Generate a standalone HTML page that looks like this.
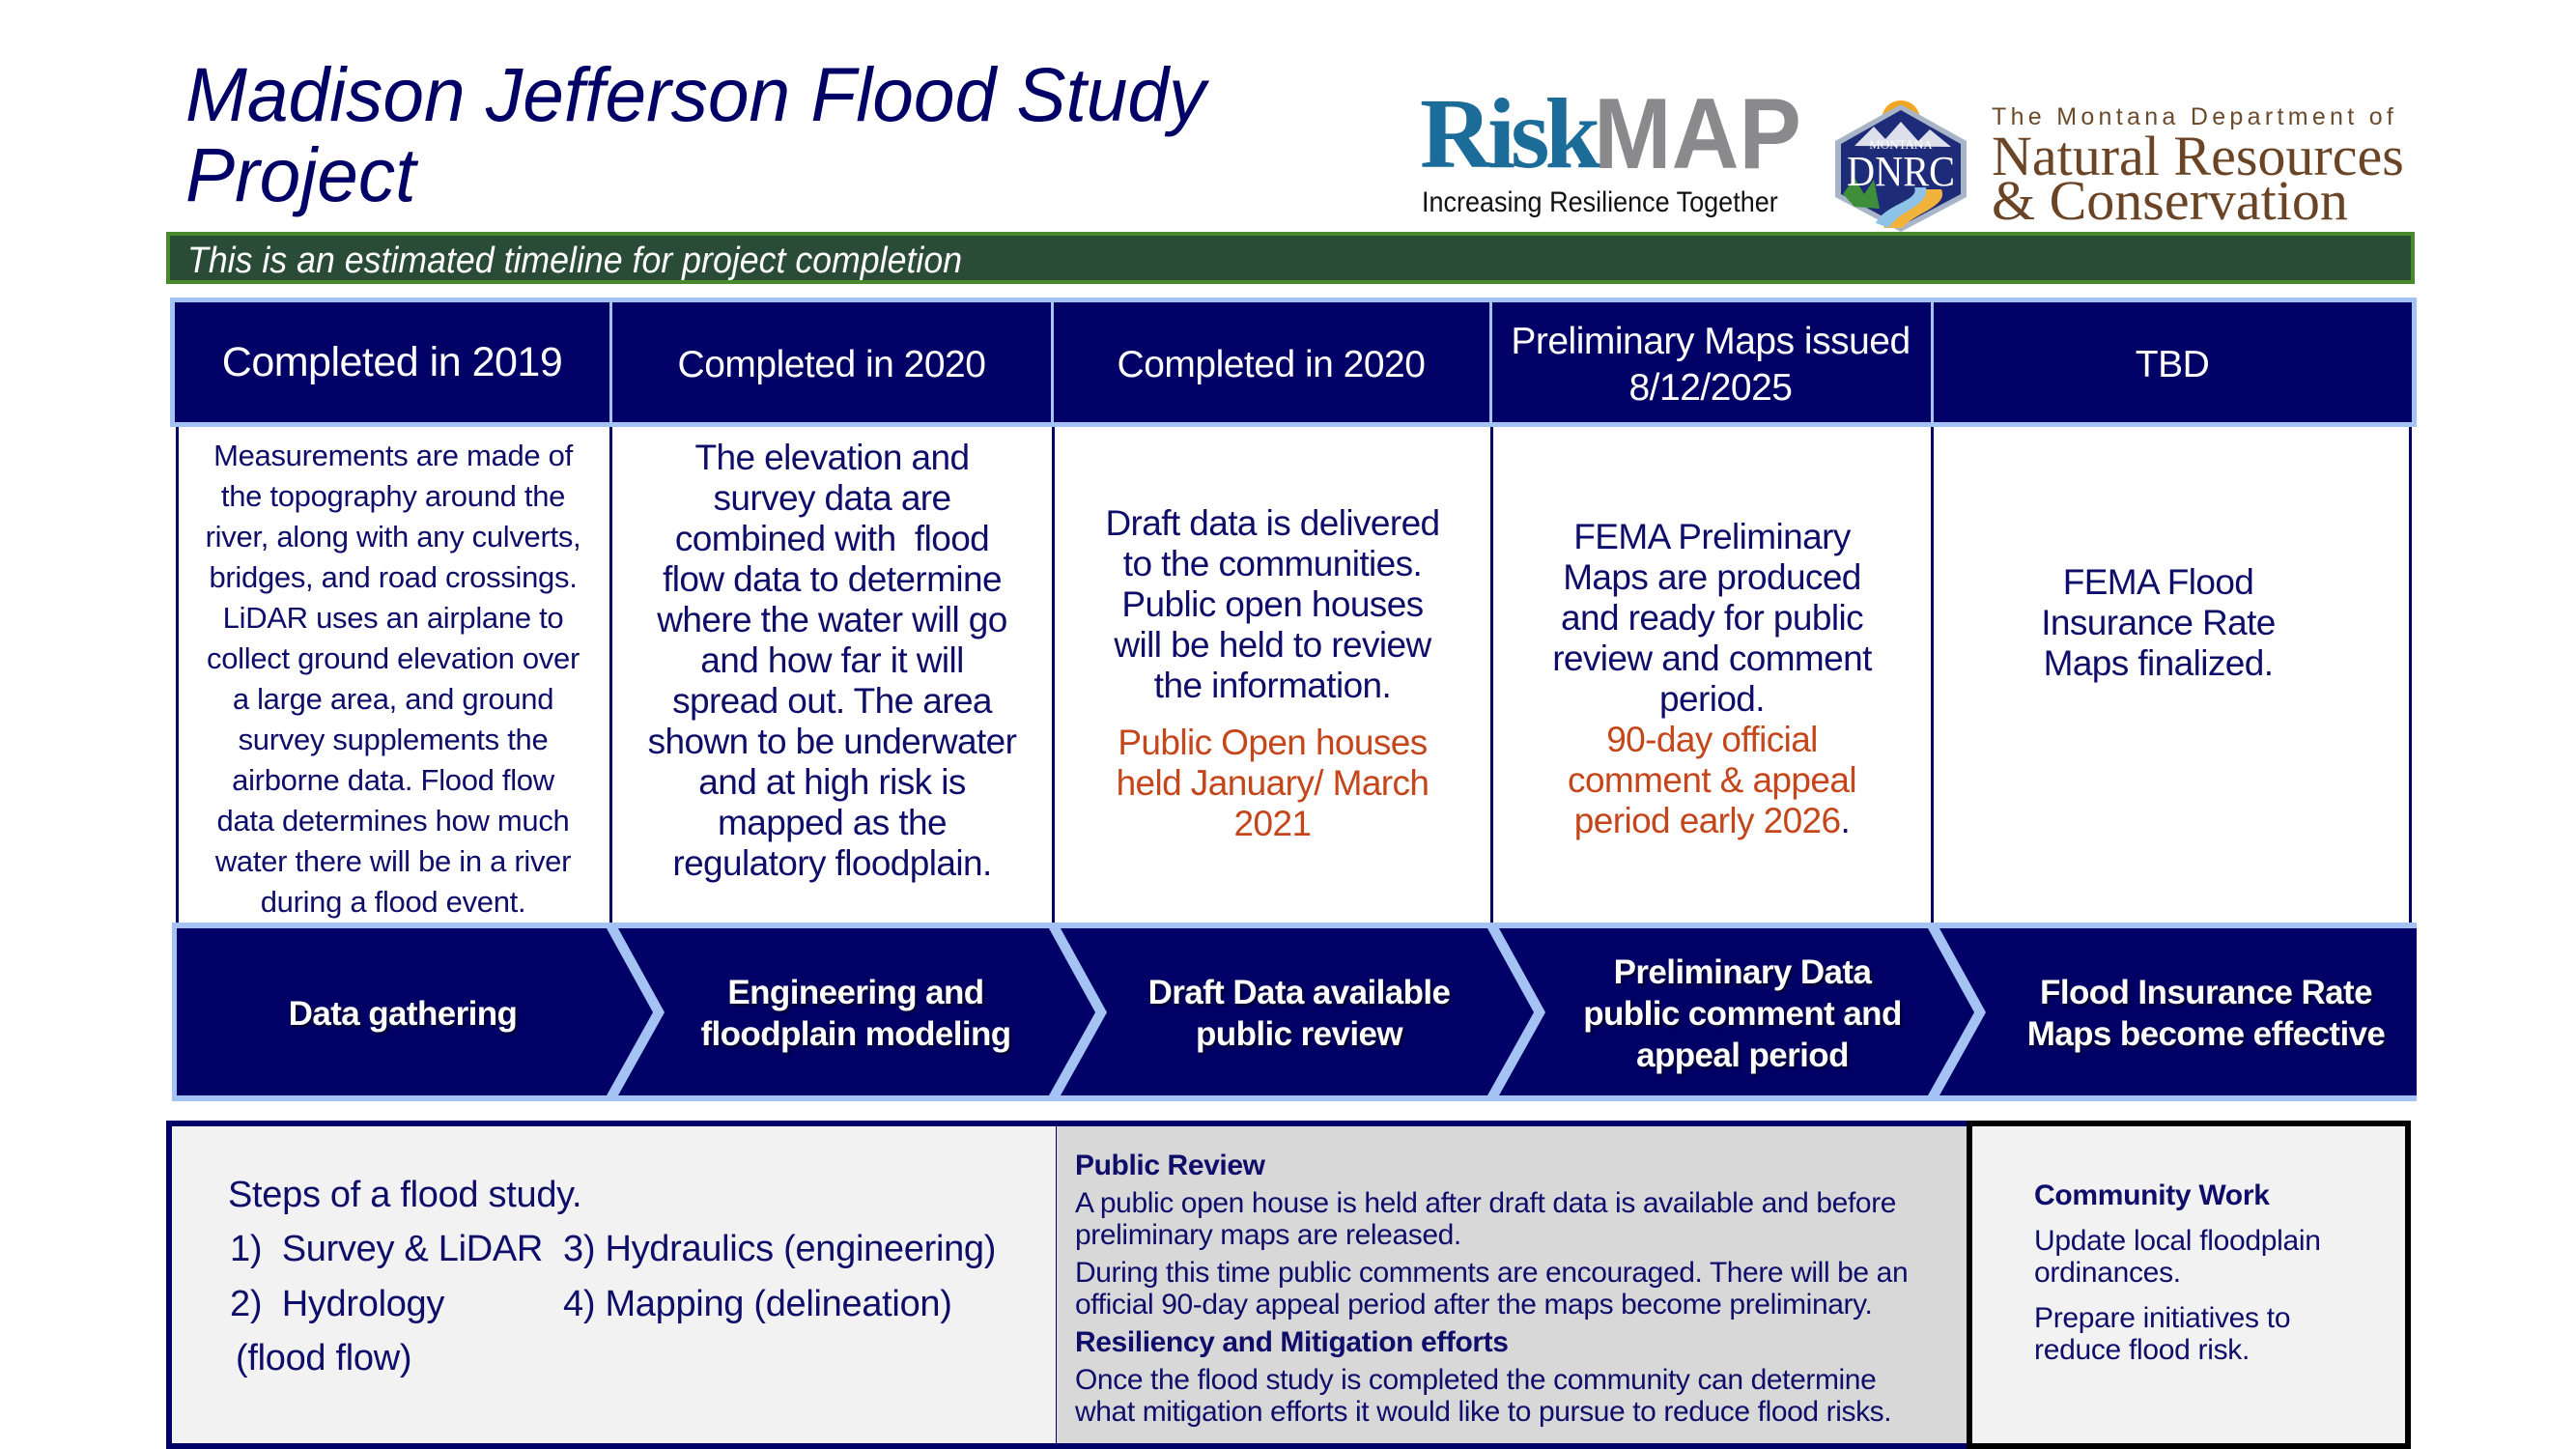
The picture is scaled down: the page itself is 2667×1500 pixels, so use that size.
<!DOCTYPE html>
<html><head><meta charset="utf-8"><style>
*{margin:0;padding:0;box-sizing:border-box}
body{width:2667px;height:1500px;background:#fff;position:relative;overflow:hidden;font-family:"Liberation Sans",sans-serif;color:#0e0e6a}
.a{position:absolute;white-space:nowrap}
.c{text-align:center}
.hd{color:#fff;font-size:39px;line-height:48px;letter-spacing:-0.5px}
.bd{font-size:37px;line-height:42px;letter-spacing:-0.6px}
.or{color:#c4461a}
.ch{color:#fff;font-weight:bold;font-size:35px;line-height:43px;letter-spacing:-0.6px;text-shadow:2px 2px 2px rgba(0,0,0,.6)}
</style></head><body>

<div class="a" style="left:192px;top:56px;font-size:79px;line-height:83px;font-style:italic;color:#000066;transform:scaleX(0.97);transform-origin:0 0">Madison Jefferson Flood Study<br>Project</div>

<!-- RiskMAP -->
<div class="a" style="left:1470px;top:84px;font-family:'Liberation Serif',serif;font-weight:bold;font-size:104px;line-height:110px;color:#1b6c98;letter-spacing:-5px">Risk</div>
<div class="a" style="left:1650px;top:84px;font-weight:bold;font-size:104px;line-height:110px;color:#8a8a8c;transform:scaleX(0.93);transform-origin:0 0">MAP</div>
<div class="a" style="left:1472px;top:193px;font-size:30px;line-height:34px;color:#111;transform:scaleX(0.9);transform-origin:0 0">Increasing Resilience Together</div>

<svg class="a" style="left:1890px;top:96px" width="156" height="146" viewBox="0 0 156 146">
<circle cx="78" cy="28" r="20" fill="#f2a51e"/>
<polygon points="78,12 146,50 146,108 78,144 10,108 10,50" fill="#a8b4c8"/>
<polygon points="78,18 140,53 140,105 78,138 16,105 16,53" fill="#1d2b78"/>
<polygon points="30,55 50,35 62,48 78,30 96,50 108,38 130,56" fill="#fff" opacity=".85"/>
<path d="M60,140 C70,120 110,118 100,100 L120,100 C128,118 90,125 80,140 Z" fill="#f2b33d"/>
<path d="M52,135 C62,115 98,112 92,98 L104,98 C108,118 74,122 66,140 Z" fill="#8fc3e8"/>
<polygon points="18,105 30,88 40,105 50,90 56,120 30,118" fill="#3f8f3a"/>
<text x="78" y="58" text-anchor="middle" font-family="Liberation Serif" font-size="13" fill="#fff">MONTANA</text>
<text x="78" y="96" text-anchor="middle" font-family="Liberation Serif" font-size="44" fill="#fff" textLength="112" lengthAdjust="spacingAndGlyphs">DNRC</text>
</svg>
<div class="a" style="left:2062px;top:106px;font-size:25px;line-height:30px;color:#6b4a2b;letter-spacing:4.3px">The Montana Department of</div>
<div class="a" style="left:2062px;top:130px;font-family:'Liberation Serif',serif;font-size:58px;line-height:64px;color:#6b4426;transform:scaleX(1.0);transform-origin:0 0">Natural Resources</div>
<div class="a" style="left:2062px;top:176px;font-family:'Liberation Serif',serif;font-size:58px;line-height:64px;color:#6b4426;transform:scaleX(1.0);transform-origin:0 0">&amp; Conservation</div>

<!-- green bar -->
<div class="a" style="left:172px;top:240px;width:2328px;height:54px;background:#2a4c36;border:4px solid #4a8a2e"></div>
<div class="a" style="left:194px;top:248px;font-size:38px;line-height:44px;font-style:italic;color:#fff;transform:scaleX(0.94);transform-origin:0 0">This is an estimated timeline for project completion</div>

<!-- header row -->
<div class="a" style="left:176px;top:308px;width:2326px;height:134px;background:#a4c2f4"></div>
<div class="a" style="left:181px;top:313px;width:450px;height:124px;background:#000066"></div>
<div class="a" style="left:634px;top:313px;width:454px;height:124px;background:#000066"></div>
<div class="a" style="left:1091px;top:313px;width:451px;height:124px;background:#000066"></div>
<div class="a" style="left:1545px;top:313px;width:454px;height:124px;background:#000066"></div>
<div class="a" style="left:2002px;top:313px;width:495px;height:124px;background:#000066"></div>
<div class="a c hd" style="left:178px;width:456px;top:351px;font-size:43px">Completed in 2019</div>
<div class="a c hd" style="left:631px;width:460px;top:354px">Completed in 2020</div>
<div class="a c hd" style="left:1088px;width:456px;top:354px">Completed in 2020</div>
<div class="a c hd" style="left:1541px;width:460px;top:330px">Preliminary Maps issued<br>8/12/2025</div>
<div class="a c hd" style="left:1999px;width:500px;top:354px">TBD</div>

<!-- body row -->
<div class="a" style="left:182px;top:442px;width:3px;height:520px;background:#000066"></div>
<div class="a" style="left:631px;top:442px;width:3px;height:520px;background:#000066"></div>
<div class="a" style="left:1089px;top:442px;width:3px;height:520px;background:#000066"></div>
<div class="a" style="left:1543px;top:442px;width:3px;height:520px;background:#000066"></div>
<div class="a" style="left:1999px;top:442px;width:3px;height:520px;background:#000066"></div>
<div class="a" style="left:2494px;top:442px;width:3px;height:520px;background:#000066"></div>

<div class="a c bd" style="left:183px;width:448px;top:451px;font-size:31px;letter-spacing:-0.3px">Measurements are made of<br>the topography around the<br>river, along with any culverts,<br>bridges, and road crossings.<br>LiDAR uses an airplane to<br>collect ground elevation over<br>a large area, and ground<br>survey supplements the<br>airborne data. Flood flow<br>data determines how much<br>water there will be in a river<br>during a flood event.</div>
<div class="a c bd" style="left:634px;width:455px;top:453px">The elevation and<br>survey data are<br>combined with&nbsp; flood<br>flow data to determine<br>where the water will go<br>and how far it will<br>spread out. The area<br>shown to be underwater<br>and at high risk is<br>mapped as the<br>regulatory floodplain.</div>
<div class="a c bd" style="left:1092px;width:451px;top:521px">Draft data is delivered<br>to the communities.<br>Public open houses<br>will be held to review<br>the information.</div>
<div class="a c bd or" style="left:1092px;width:451px;top:748px">Public Open houses<br>held January/ March<br>2021</div>
<div class="a c bd" style="left:1546px;width:453px;top:535px">FEMA Preliminary<br>Maps are produced<br>and ready for public<br>review and comment<br>period.<br><span class="or">90-day official<br>comment &amp; appeal<br>period early 2026</span>.</div>
<div class="a c bd" style="left:2002px;width:465px;top:582px">FEMA Flood<br>Insurance Rate<br>Maps finalized.</div>

<!-- chevrons -->
<svg class="a" style="left:0;top:0" width="2667" height="1500">
<rect x="178" y="955" width="2324" height="185" fill="#a4c2f4"/>
<polygon points="183,961 628,961 676,1048 628,1134 183,1134" fill="#000066"/>
<polygon points="640,961 1086,961 1134,1048 1086,1134 640,1134 688,1048" fill="#000066"/>
<polygon points="1098,961 1540,961 1588,1048 1540,1134 1098,1134 1146,1048" fill="#000066"/>
<polygon points="1552,961 1996,961 2044,1048 1996,1134 1552,1134 1600,1048" fill="#000066"/>
<polygon points="2008,961 2502,961 2502,1134 2008,1134 2056,1048" fill="#000066"/>
</svg>
<div class="a c ch" style="left:217px;width:400px;top:1028px">Data gathering</div>
<div class="a c ch" style="left:686px;width:400px;top:1006px">Engineering and<br>floodplain modeling</div>
<div class="a c ch" style="left:1145px;width:400px;top:1006px">Draft Data available<br>public review</div>
<div class="a c ch" style="left:1604px;width:400px;top:985px">Preliminary Data<br>public comment and<br>appeal period</div>
<div class="a c ch" style="left:2054px;width:460px;top:1006px">Flood Insurance Rate<br>Maps become effective</div>

<!-- bottom box -->
<div class="a" style="left:172px;top:1160px;width:924px;height:340px;background:#f2f2f2;border:6px solid #000066;border-right:3px solid #000066"></div>
<div class="a" style="left:1094px;top:1160px;width:948px;height:340px;background:#d8d8d8;border-top:6px solid #000066;border-bottom:6px solid #000066"></div>
<div class="a" style="left:2036px;top:1160px;width:460px;height:340px;background:#f2f2f2;border:6px solid #000"></div>

<div class="a" style="left:236px;top:1215px;font-size:38px;line-height:44px;letter-spacing:-0.3px">Steps of a flood study.</div>
<div class="a" style="left:238px;top:1271px;font-size:38px;line-height:44px;letter-spacing:-0.3px">1)&nbsp; Survey &amp; LiDAR</div>
<div class="a" style="left:583px;top:1271px;font-size:38px;line-height:44px;letter-spacing:-0.3px">3) Hydraulics (engineering)</div>
<div class="a" style="left:238px;top:1328px;font-size:38px;line-height:44px;letter-spacing:-0.3px">2)&nbsp; Hydrology</div>
<div class="a" style="left:583px;top:1328px;font-size:38px;line-height:44px;letter-spacing:-0.3px">4) Mapping (delineation)</div>
<div class="a" style="left:244px;top:1384px;font-size:38px;line-height:44px;letter-spacing:-0.3px">(flood flow)</div>

<div class="a" style="left:1113px;top:1190px;font-size:30px;line-height:33px;letter-spacing:-0.4px">
<b>Public Review</b><br>
<div style="height:6px"></div>A public open house is held after draft data is available and before<br>preliminary maps are released.<br>
<div style="height:6px"></div>During this time public comments are encouraged. There will be an<br>official 90-day appeal period after the maps become preliminary.<br>
<div style="height:6px"></div><b>Resiliency and Mitigation efforts</b><br>
<div style="height:6px"></div>Once the flood study is completed the community can determine<br>what mitigation efforts it would like to pursue to reduce flood risks.</div>

<div class="a" style="left:2106px;top:1221px;font-size:30px;line-height:33px;letter-spacing:-0.3px"><b>Community Work</b><br>
<div style="height:14px"></div>Update local floodplain<br>ordinances.<br>
<div style="height:14px"></div>Prepare initiatives to<br>reduce flood risk.</div>

</body></html>
